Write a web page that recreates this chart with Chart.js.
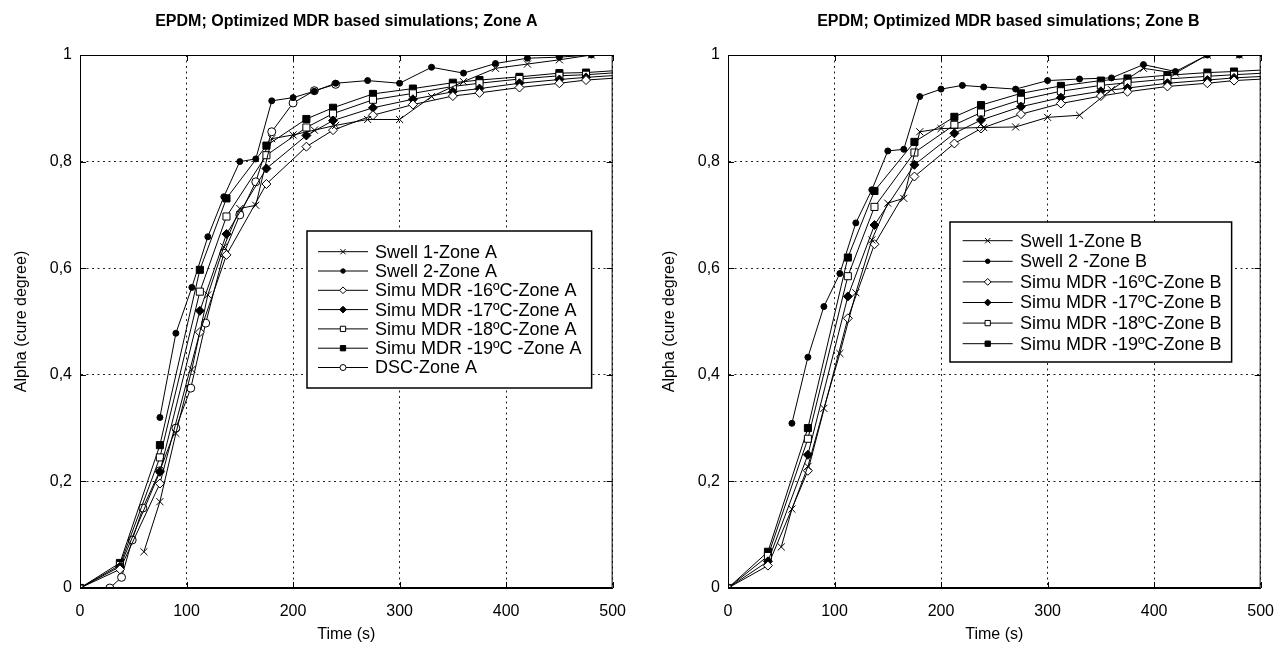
<!DOCTYPE html>
<html>
<head>
<meta charset="utf-8">
<script src="https://cdn.jsdelivr.net/npm/chart.js@4.4.1/dist/chart.umd.min.js"></script>
<style>
    body { margin: 0; background: #fff; }
    .chart-box { position: absolute; top: 0; width: 640px; height: 646px; }
    #box-a { left: 0; }
    #box-b { left: 648px; }
</style>
</head>
<body>
<div class="chart-box" id="box-a"><canvas id="chart-a"></canvas></div>
<div class="chart-box" id="box-b"><canvas id="chart-b"></canvas></div>
<script>
// データここから
const xTickLabels = ["0", "100", "200", "300", "400", "500"];
const yTickLabels = ["0", "0,2", "0,4", "0,6", "0,8", "1"];

// シミュレーションの時刻 (s)
const simTimes = [0, 37.5, 75, 112.5, 137.5, 175, 212.5, 237.5, 275, 312.5, 350, 375, 412.5, 450, 475, 512.5];

// Zone A
const swell1ATimes = [60, 75, 90, 105, 120, 135, 150, 165, 180, 200, 220, 240, 270, 300, 330, 360, 390, 420, 450, 480];
const swell1AValues = [0.068, 0.162, 0.29, 0.41, 0.55, 0.64, 0.712, 0.718, 0.843, 0.85, 0.859, 0.868, 0.879, 0.879, 0.922, 0.95, 0.975, 0.983, 0.991, 1.0];
const swell2ATimes = [75, 90, 105, 120, 135, 150, 165, 180, 200, 220, 240, 270, 300, 330, 360, 390, 420, 450, 480];
const swell2AValues = [0.32, 0.478, 0.564, 0.659, 0.734, 0.8, 0.805, 0.914, 0.92, 0.932, 0.947, 0.952, 0.947, 0.977, 0.966, 0.984, 0.994, 0.996, 1.0];
const sim16AValues = [0, 0.035, 0.196, 0.48, 0.625, 0.758, 0.828, 0.859, 0.887, 0.907, 0.923, 0.929, 0.939, 0.947, 0.953, 0.958];
const sim17AValues = [0, 0.04, 0.218, 0.52, 0.664, 0.787, 0.849, 0.877, 0.901, 0.917, 0.931, 0.937, 0.947, 0.954, 0.958, 0.963];
const sim18AValues = [0, 0.043, 0.245, 0.556, 0.697, 0.812, 0.864, 0.89, 0.916, 0.928, 0.941, 0.947, 0.955, 0.961, 0.963, 0.968];
const sim19AValues = [0, 0.047, 0.268, 0.597, 0.731, 0.83, 0.88, 0.901, 0.927, 0.937, 0.948, 0.953, 0.959, 0.966, 0.967, 0.972];
const dscATimes = [0, 28, 39, 49, 59, 75, 90, 104, 118, 135, 150, 165, 180, 200, 220, 240];
const dscAValues = [0, 0, 0.02, 0.09, 0.15, 0.22, 0.3, 0.375, 0.497, 0.628, 0.7, 0.762, 0.856, 0.91, 0.933, 0.945];

// Zone B
const swell1BTimes = [50, 60, 75, 90, 105, 120, 135, 150, 165, 180, 200, 240, 270, 300, 330, 360, 390, 420, 450, 480];
const swell1BValues = [0.077, 0.148, 0.228, 0.337, 0.44, 0.554, 0.653, 0.722, 0.731, 0.856, 0.862, 0.864, 0.865, 0.883, 0.887, 0.935, 0.975, 0.966, 1.0, 1.0];
const swell2BTimes = [60, 75, 90, 105, 120, 135, 150, 165, 180, 200, 220, 240, 270, 300, 330, 360, 390, 420, 450, 480];
const swell2BValues = [0.309, 0.433, 0.528, 0.59, 0.685, 0.747, 0.82, 0.823, 0.922, 0.936, 0.943, 0.94, 0.936, 0.952, 0.955, 0.957, 0.982, 0.969, 1.0, 1.0];
const sim16BValues = [0, 0.042, 0.22, 0.506, 0.645, 0.772, 0.834, 0.862, 0.889, 0.909, 0.923, 0.931, 0.941, 0.947, 0.952, 0.956];
const sim17BValues = [0, 0.05, 0.25, 0.547, 0.681, 0.794, 0.853, 0.878, 0.903, 0.92, 0.932, 0.938, 0.947, 0.953, 0.957, 0.961];
const sim18BValues = [0, 0.06, 0.28, 0.585, 0.715, 0.817, 0.869, 0.892, 0.916, 0.932, 0.943, 0.948, 0.955, 0.96, 0.963, 0.967];
const sim19BValues = [0, 0.068, 0.3, 0.62, 0.745, 0.837, 0.884, 0.906, 0.928, 0.942, 0.952, 0.956, 0.962, 0.967, 0.969, 0.973];
// データここまで

const fontFamily = "'Liberation Sans', Arial, Helvetica, sans-serif";

// マーカーの種類
const markers = {
    cross: { pointStyle: "crossRot", radius: 5, fill: "#000" },
    dot: { pointStyle: "circle", radius: 3, fill: "#000" },
    openDiamond: { pointStyle: "rectRot", radius: 4.5, fill: "#fff" },
    diamond: { pointStyle: "rectRot", radius: 4.5, fill: "#000" },
    openSquare: { pointStyle: "rect", radius: 5, fill: "#fff" },
    square: { pointStyle: "rect", radius: 5, fill: "#000" },
    openCircle: { pointStyle: "circle", radius: 4, fill: "#fff" },
};

function makePoints(times, values) {
    return times.map(function (t, i) {
        return { x: t, y: values[i] };
    });
}

function makeDataset(label, times, values, marker) {
    return {
        label: label,
        data: makePoints(times, values),
        borderColor: "#000",
        borderWidth: 1,
        tension: 0,
        pointStyle: marker.pointStyle,
        pointRadius: marker.radius,
        pointBackgroundColor: marker.fill,
        pointBorderColor: "#000",
        pointBorderWidth: 1,
    };
}

// 枠と内向き目盛りここから
const framePlugin = {
    id: "frame",
    afterDatasetsDraw(chart) {
        const ctx = chart.ctx;
        const area = chart.chartArea;
        const xScale = chart.scales.x;
        const yScale = chart.scales.y;
        ctx.save();
        ctx.strokeStyle = "#000";
        ctx.lineWidth = 1;
        ctx.strokeRect(area.left + 0.5, area.top + 0.5, area.right - area.left - 1, area.bottom - area.top - 1);
        ctx.beginPath();
        for (let tick of xScale.ticks) {
            let px = Math.round(xScale.getPixelForValue(tick.value)) + 0.5;
            ctx.moveTo(px, area.bottom);
            ctx.lineTo(px, area.bottom - 6);
            ctx.moveTo(px, area.top);
            ctx.lineTo(px, area.top + 6);
        }
        for (let tick of yScale.ticks) {
            let py = Math.round(yScale.getPixelForValue(tick.value)) + 0.5;
            ctx.moveTo(area.left, py);
            ctx.lineTo(area.left + 6, py);
            ctx.moveTo(area.right, py);
            ctx.lineTo(area.right - 6, py);
        }
        ctx.stroke();
        ctx.restore();
    },
};
// 枠と内向き目盛りここまで

// タイトルと凡例ここから
const titleLegendPlugin = {
    id: "titleLegend",
    afterDraw(chart, args, opts) {
        const ctx = chart.ctx;
        const area = chart.chartArea;
        ctx.save();

        // タイトル
        ctx.fillStyle = "#000";
        ctx.font = "bold 16px " + fontFamily;
        ctx.textAlign = "center";
        ctx.textBaseline = "middle";
        ctx.fillText(opts.title, (area.left + area.right) / 2 + opts.titleShift, 22);

        // 凡例枠
        const lg = opts.legend;
        const datasets = chart.data.datasets;
        ctx.font = "18px " + fontFamily;
        let maxText = 0;
        for (let ds of datasets) {
            maxText = Math.max(maxText, ctx.measureText(ds.label).width);
        }
        const boxLeft = area.left + lg.left;
        const boxTop = area.top + lg.top;
        const boxWidth = lg.textStart + maxText + 10;
        ctx.fillStyle = "#fff";
        ctx.fillRect(boxLeft, boxTop, boxWidth, lg.height);
        ctx.strokeStyle = "#000";
        ctx.lineWidth = 1.5;
        ctx.strokeRect(boxLeft, boxTop, boxWidth, lg.height);

        // 凡例項目
        ctx.textAlign = "left";
        for (let i = 0; i < datasets.length; i++) {
            const ds = datasets[i];
            const y = boxTop + lg.rowTop + i * lg.rowGap;
            ctx.strokeStyle = "#000";
            ctx.lineWidth = 1;
            ctx.beginPath();
            ctx.moveTo(boxLeft + lg.lineStart, y);
            ctx.lineTo(boxLeft + lg.lineEnd, y);
            ctx.stroke();
            ctx.fillStyle = ds.pointBackgroundColor;
            Chart.helpers.drawPoint(
                ctx,
                { pointStyle: ds.pointStyle, radius: ds.pointRadius * 0.75, rotation: 0, borderWidth: 1 },
                boxLeft + (lg.lineStart + lg.lineEnd) / 2,
                y
            );
            ctx.fillStyle = "#000";
            ctx.fillText(ds.label, boxLeft + lg.textStart, y + 1);
        }
        ctx.restore();
    },
};
// タイトルと凡例ここまで

function makeChart(canvasId, datasets, title, titleShift, legend) {
    return new Chart(document.getElementById(canvasId), {
        type: "line",
        data: { datasets: datasets },
        plugins: [framePlugin, titleLegendPlugin],
        options: {
            responsive: true,
            maintainAspectRatio: false,
            animation: false,
            devicePixelRatio: 1,
            events: [],
            layout: { padding: { top: 55, right: 25, left: 0, bottom: 0 } },
            plugins: {
                legend: { display: false },
                title: { display: false },
                tooltip: { enabled: false },
                titleLegend: { title: title, titleShift: titleShift, legend: legend },
            },
            scales: {
                x: {
                    type: "linear",
                    min: 0,
                    max: 500,
                    afterFit(scale) {
                        scale.height = 58;
                    },
                    ticks: {
                        stepSize: 100,
                        padding: 14,
                        color: "#000",
                        font: { family: fontFamily, size: 16 },
                        maxRotation: 0,
                        callback: function (v, i) {
                            return xTickLabels[i];
                        },
                    },
                    grid: { color: "#222", lineWidth: 1, drawTicks: false },
                    border: { display: true, color: "#000", width: 1, dash: [2, 3.5] },
                    title: {
                        display: true,
                        text: "Time (s)",
                        color: "#000",
                        font: { family: fontFamily, size: 16 },
                        padding: { top: 0, bottom: 1.4 },
                    },
                },
                y: {
                    min: 0,
                    max: 1,
                    afterFit(scale) {
                        scale.width = 80;
                    },
                    ticks: {
                        stepSize: 0.2,
                        padding: 8,
                        color: "#000",
                        font: { family: fontFamily, size: 16 },
                        callback: function (v, i) {
                            return yTickLabels[i];
                        },
                    },
                    grid: { color: "#222", lineWidth: 1, drawTicks: false },
                    border: { display: true, color: "#000", width: 1, dash: [2, 3.5] },
                    title: {
                        display: true,
                        text: "Alpha (cure degree)",
                        color: "#000",
                        font: { family: fontFamily, size: 16 },
                        padding: { top: 12.4, bottom: 0 },
                    },
                },
            },
        },
    });
}

// Zone A グラフ
const datasetsA = [
    makeDataset("Swell 1-Zone A", swell1ATimes, swell1AValues, markers.cross),
    makeDataset("Swell 2-Zone A", swell2ATimes, swell2AValues, markers.dot),
    makeDataset("Simu MDR -16ºC-Zone A", simTimes, sim16AValues, markers.openDiamond),
    makeDataset("Simu MDR -17ºC-Zone A", simTimes, sim17AValues, markers.diamond),
    makeDataset("Simu MDR -18ºC-Zone A", simTimes, sim18AValues, markers.openSquare),
    makeDataset("Simu MDR -19ºC -Zone A", simTimes, sim19AValues, markers.square),
    makeDataset("DSC-Zone A", dscATimes, dscAValues, markers.openCircle),
];
makeChart("chart-a", datasetsA, "EPDM; Optimized MDR based simulations; Zone A", 0, {
    left: 227, top: 176, height: 157, rowTop: 20.7, rowGap: 19.3, lineStart: 11, lineEnd: 61, textStart: 68,
});

// Zone B グラフ
const datasetsB = [
    makeDataset("Swell 1-Zone B", swell1BTimes, swell1BValues, markers.cross),
    makeDataset("Swell 2 -Zone B", swell2BTimes, swell2BValues, markers.dot),
    makeDataset("Simu MDR -16ºC-Zone B", simTimes, sim16BValues, markers.openDiamond),
    makeDataset("Simu MDR -17ºC-Zone B", simTimes, sim17BValues, markers.diamond),
    makeDataset("Simu MDR -18ºC-Zone B", simTimes, sim18BValues, markers.openSquare),
    makeDataset("Simu MDR -19ºC-Zone B", simTimes, sim19BValues, markers.square),
];
makeChart("chart-b", datasetsB, "EPDM; Optimized MDR based simulations; Zone B", 14, {
    left: 222, top: 167, height: 140, rowTop: 18.7, rowGap: 20.6, lineStart: 12.7, lineEnd: 62.7, textStart: 70,
});
</script>
</body>
</html>
